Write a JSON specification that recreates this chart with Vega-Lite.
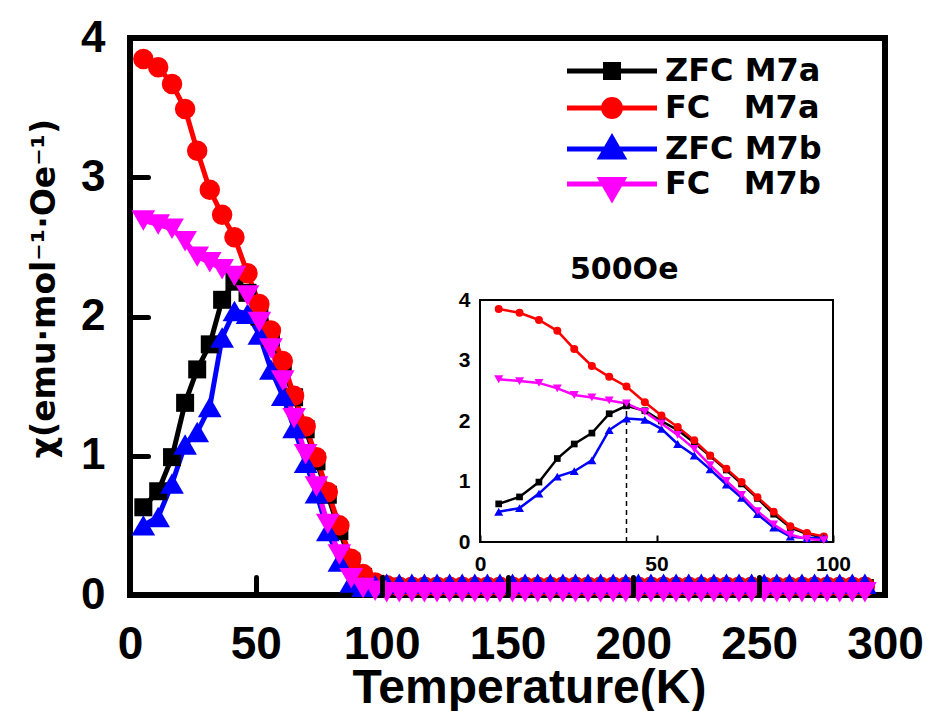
{
  "$schema": "https://vega.github.io/schema/vega-lite/v6.json",
  "width": 755,
  "height": 557,
  "autosize": {"type": "none"},
  "padding": {"left": 130, "top": 38, "right": 43, "bottom": 116},
  "background": "white",
  "config": {
    "view": {"stroke": "black", "strokeWidth": 6},
    "font": "Liberation Sans",
    "axis": {"grid": false, "labelFont": "Liberation Sans", "titleFont": "Liberation Sans", "labelColor": "black", "titleColor": "black", "tickColor": "black", "labelOverlap": false}
  },
  "datasets": {
    "chi": [
      {"T": 5.3, "chi": 0.63, "series": "ZFC M7a"}, {"T": 11.2, "chi": 0.745, "series": "ZFC M7a"}, {"T": 16.7, "chi": 0.99, "series": "ZFC M7a"}, {"T": 21.9, "chi": 1.38, "series": "ZFC M7a"}, {"T": 26.7, "chi": 1.62, "series": "ZFC M7a"}, {"T": 31.7, "chi": 1.8, "series": "ZFC M7a"}, {"T": 36.6, "chi": 2.12, "series": "ZFC M7a"}, {"T": 41.5, "chi": 2.25, "series": "ZFC M7a"}, {"T": 46.7, "chi": 2.17, "series": "ZFC M7a"}, {"T": 51.4, "chi": 2.0, "series": "ZFC M7a"}, {"T": 56.0, "chi": 1.85, "series": "ZFC M7a"}, {"T": 60.7, "chi": 1.64, "series": "ZFC M7a"}, {"T": 65.2, "chi": 1.42, "series": "ZFC M7a"}, {"T": 69.8, "chi": 1.19, "series": "ZFC M7a"}, {"T": 74.1, "chi": 0.96, "series": "ZFC M7a"}, {"T": 78.6, "chi": 0.72, "series": "ZFC M7a"}, {"T": 83.2, "chi": 0.46, "series": "ZFC M7a"}, {"T": 87.9, "chi": 0.24, "series": "ZFC M7a"}, {"T": 92.6, "chi": 0.13, "series": "ZFC M7a"}, {"T": 97.4, "chi": 0.08, "series": "ZFC M7a"},
      {"T": 102, "chi": 0.06, "series": "ZFC M7a"}, {"T": 107, "chi": 0.05, "series": "ZFC M7a"}, {"T": 112, "chi": 0.05, "series": "ZFC M7a"}, {"T": 117, "chi": 0.05, "series": "ZFC M7a"}, {"T": 122, "chi": 0.05, "series": "ZFC M7a"}, {"T": 127, "chi": 0.05, "series": "ZFC M7a"}, {"T": 132, "chi": 0.05, "series": "ZFC M7a"}, {"T": 137, "chi": 0.05, "series": "ZFC M7a"}, {"T": 142, "chi": 0.05, "series": "ZFC M7a"}, {"T": 147, "chi": 0.05, "series": "ZFC M7a"}, {"T": 152, "chi": 0.05, "series": "ZFC M7a"}, {"T": 157, "chi": 0.05, "series": "ZFC M7a"}, {"T": 162, "chi": 0.05, "series": "ZFC M7a"}, {"T": 167, "chi": 0.05, "series": "ZFC M7a"}, {"T": 172, "chi": 0.05, "series": "ZFC M7a"}, {"T": 177, "chi": 0.05, "series": "ZFC M7a"}, {"T": 182, "chi": 0.05, "series": "ZFC M7a"}, {"T": 187, "chi": 0.05, "series": "ZFC M7a"}, {"T": 192, "chi": 0.05, "series": "ZFC M7a"}, {"T": 197, "chi": 0.05, "series": "ZFC M7a"}, {"T": 202, "chi": 0.05, "series": "ZFC M7a"}, {"T": 207, "chi": 0.05, "series": "ZFC M7a"}, {"T": 212, "chi": 0.05, "series": "ZFC M7a"}, {"T": 217, "chi": 0.05, "series": "ZFC M7a"}, {"T": 222, "chi": 0.05, "series": "ZFC M7a"}, {"T": 227, "chi": 0.05, "series": "ZFC M7a"}, {"T": 232, "chi": 0.05, "series": "ZFC M7a"}, {"T": 237, "chi": 0.05, "series": "ZFC M7a"}, {"T": 242, "chi": 0.05, "series": "ZFC M7a"}, {"T": 247, "chi": 0.05, "series": "ZFC M7a"}, {"T": 252, "chi": 0.05, "series": "ZFC M7a"}, {"T": 257, "chi": 0.05, "series": "ZFC M7a"}, {"T": 262, "chi": 0.05, "series": "ZFC M7a"}, {"T": 267, "chi": 0.05, "series": "ZFC M7a"}, {"T": 272, "chi": 0.05, "series": "ZFC M7a"}, {"T": 277, "chi": 0.05, "series": "ZFC M7a"}, {"T": 282, "chi": 0.05, "series": "ZFC M7a"}, {"T": 287, "chi": 0.05, "series": "ZFC M7a"}, {"T": 292, "chi": 0.05, "series": "ZFC M7a"},

      {"T": 5.3, "chi": 3.85, "series": "FC M7a"}, {"T": 11.2, "chi": 3.79, "series": "FC M7a"}, {"T": 16.7, "chi": 3.67, "series": "FC M7a"}, {"T": 21.9, "chi": 3.49, "series": "FC M7a"}, {"T": 26.7, "chi": 3.19, "series": "FC M7a"}, {"T": 31.7, "chi": 2.91, "series": "FC M7a"}, {"T": 36.6, "chi": 2.73, "series": "FC M7a"}, {"T": 41.5, "chi": 2.57, "series": "FC M7a"}, {"T": 46.7, "chi": 2.31, "series": "FC M7a"}, {"T": 51.4, "chi": 2.09, "series": "FC M7a"}, {"T": 56.0, "chi": 1.9, "series": "FC M7a"}, {"T": 60.7, "chi": 1.68, "series": "FC M7a"}, {"T": 65.2, "chi": 1.43, "series": "FC M7a"}, {"T": 69.8, "chi": 1.21, "series": "FC M7a"}, {"T": 74.1, "chi": 0.99, "series": "FC M7a"}, {"T": 78.6, "chi": 0.74, "series": "FC M7a"}, {"T": 83.2, "chi": 0.5, "series": "FC M7a"}, {"T": 87.9, "chi": 0.26, "series": "FC M7a"}, {"T": 92.6, "chi": 0.15, "series": "FC M7a"}, {"T": 97.4, "chi": 0.09, "series": "FC M7a"},
      {"T": 102, "chi": 0.07, "series": "FC M7a"}, {"T": 107, "chi": 0.06, "series": "FC M7a"}, {"T": 112, "chi": 0.06, "series": "FC M7a"}, {"T": 117, "chi": 0.06, "series": "FC M7a"}, {"T": 122, "chi": 0.06, "series": "FC M7a"}, {"T": 127, "chi": 0.06, "series": "FC M7a"}, {"T": 132, "chi": 0.06, "series": "FC M7a"}, {"T": 137, "chi": 0.06, "series": "FC M7a"}, {"T": 142, "chi": 0.06, "series": "FC M7a"}, {"T": 147, "chi": 0.06, "series": "FC M7a"}, {"T": 152, "chi": 0.06, "series": "FC M7a"}, {"T": 157, "chi": 0.06, "series": "FC M7a"}, {"T": 162, "chi": 0.06, "series": "FC M7a"}, {"T": 167, "chi": 0.06, "series": "FC M7a"}, {"T": 172, "chi": 0.06, "series": "FC M7a"}, {"T": 177, "chi": 0.06, "series": "FC M7a"}, {"T": 182, "chi": 0.06, "series": "FC M7a"}, {"T": 187, "chi": 0.06, "series": "FC M7a"}, {"T": 192, "chi": 0.06, "series": "FC M7a"}, {"T": 197, "chi": 0.06, "series": "FC M7a"}, {"T": 202, "chi": 0.06, "series": "FC M7a"}, {"T": 207, "chi": 0.06, "series": "FC M7a"}, {"T": 212, "chi": 0.06, "series": "FC M7a"}, {"T": 217, "chi": 0.06, "series": "FC M7a"}, {"T": 222, "chi": 0.06, "series": "FC M7a"}, {"T": 227, "chi": 0.06, "series": "FC M7a"}, {"T": 232, "chi": 0.06, "series": "FC M7a"}, {"T": 237, "chi": 0.06, "series": "FC M7a"}, {"T": 242, "chi": 0.06, "series": "FC M7a"}, {"T": 247, "chi": 0.06, "series": "FC M7a"}, {"T": 252, "chi": 0.06, "series": "FC M7a"}, {"T": 257, "chi": 0.06, "series": "FC M7a"}, {"T": 262, "chi": 0.06, "series": "FC M7a"}, {"T": 267, "chi": 0.06, "series": "FC M7a"}, {"T": 272, "chi": 0.06, "series": "FC M7a"}, {"T": 277, "chi": 0.06, "series": "FC M7a"}, {"T": 282, "chi": 0.06, "series": "FC M7a"}, {"T": 287, "chi": 0.06, "series": "FC M7a"}, {"T": 292, "chi": 0.06, "series": "FC M7a"},

      {"T": 5.3, "chi": 0.5, "series": "ZFC M7b"}, {"T": 11.2, "chi": 0.56, "series": "ZFC M7b"}, {"T": 16.7, "chi": 0.8, "series": "ZFC M7b"}, {"T": 21.9, "chi": 1.08, "series": "ZFC M7b"}, {"T": 26.7, "chi": 1.17, "series": "ZFC M7b"}, {"T": 31.7, "chi": 1.35, "series": "ZFC M7b"}, {"T": 36.6, "chi": 1.85, "series": "ZFC M7b"}, {"T": 41.5, "chi": 2.04, "series": "ZFC M7b"}, {"T": 46.7, "chi": 2.02, "series": "ZFC M7b"}, {"T": 51.4, "chi": 1.87, "series": "ZFC M7b"}, {"T": 56.0, "chi": 1.62, "series": "ZFC M7b"}, {"T": 60.7, "chi": 1.43, "series": "ZFC M7b"}, {"T": 65.2, "chi": 1.2, "series": "ZFC M7b"}, {"T": 69.8, "chi": 0.95, "series": "ZFC M7b"}, {"T": 74.1, "chi": 0.73, "series": "ZFC M7b"}, {"T": 78.6, "chi": 0.46, "series": "ZFC M7b"}, {"T": 83.2, "chi": 0.24, "series": "ZFC M7b"}, {"T": 87.9, "chi": 0.09, "series": "ZFC M7b"}, {"T": 92.6, "chi": 0.06, "series": "ZFC M7b"}, {"T": 97.4, "chi": 0.07, "series": "ZFC M7b"},
      {"T": 102, "chi": 0.08, "series": "ZFC M7b"}, {"T": 107, "chi": 0.08, "series": "ZFC M7b"}, {"T": 112, "chi": 0.08, "series": "ZFC M7b"}, {"T": 117, "chi": 0.08, "series": "ZFC M7b"}, {"T": 122, "chi": 0.08, "series": "ZFC M7b"}, {"T": 127, "chi": 0.08, "series": "ZFC M7b"}, {"T": 132, "chi": 0.08, "series": "ZFC M7b"}, {"T": 137, "chi": 0.08, "series": "ZFC M7b"}, {"T": 142, "chi": 0.08, "series": "ZFC M7b"}, {"T": 147, "chi": 0.08, "series": "ZFC M7b"}, {"T": 152, "chi": 0.08, "series": "ZFC M7b"}, {"T": 157, "chi": 0.08, "series": "ZFC M7b"}, {"T": 162, "chi": 0.08, "series": "ZFC M7b"}, {"T": 167, "chi": 0.08, "series": "ZFC M7b"}, {"T": 172, "chi": 0.08, "series": "ZFC M7b"}, {"T": 177, "chi": 0.08, "series": "ZFC M7b"}, {"T": 182, "chi": 0.08, "series": "ZFC M7b"}, {"T": 187, "chi": 0.08, "series": "ZFC M7b"}, {"T": 192, "chi": 0.08, "series": "ZFC M7b"}, {"T": 197, "chi": 0.08, "series": "ZFC M7b"}, {"T": 202, "chi": 0.08, "series": "ZFC M7b"}, {"T": 207, "chi": 0.08, "series": "ZFC M7b"}, {"T": 212, "chi": 0.08, "series": "ZFC M7b"}, {"T": 217, "chi": 0.08, "series": "ZFC M7b"}, {"T": 222, "chi": 0.08, "series": "ZFC M7b"}, {"T": 227, "chi": 0.08, "series": "ZFC M7b"}, {"T": 232, "chi": 0.08, "series": "ZFC M7b"}, {"T": 237, "chi": 0.08, "series": "ZFC M7b"}, {"T": 242, "chi": 0.08, "series": "ZFC M7b"}, {"T": 247, "chi": 0.08, "series": "ZFC M7b"}, {"T": 252, "chi": 0.08, "series": "ZFC M7b"}, {"T": 257, "chi": 0.08, "series": "ZFC M7b"}, {"T": 262, "chi": 0.08, "series": "ZFC M7b"}, {"T": 267, "chi": 0.08, "series": "ZFC M7b"}, {"T": 272, "chi": 0.08, "series": "ZFC M7b"}, {"T": 277, "chi": 0.08, "series": "ZFC M7b"}, {"T": 282, "chi": 0.08, "series": "ZFC M7b"}, {"T": 287, "chi": 0.08, "series": "ZFC M7b"}, {"T": 292, "chi": 0.08, "series": "ZFC M7b"},

      {"T": 5.3, "chi": 2.69, "series": "FC M7b"}, {"T": 11.2, "chi": 2.66, "series": "FC M7b"}, {"T": 16.7, "chi": 2.63, "series": "FC M7b"}, {"T": 21.9, "chi": 2.54, "series": "FC M7b"}, {"T": 26.7, "chi": 2.43, "series": "FC M7b"}, {"T": 31.7, "chi": 2.39, "series": "FC M7b"}, {"T": 36.6, "chi": 2.34, "series": "FC M7b"}, {"T": 41.5, "chi": 2.29, "series": "FC M7b"}, {"T": 46.7, "chi": 2.15, "series": "FC M7b"}, {"T": 51.4, "chi": 1.96, "series": "FC M7b"}, {"T": 56.0, "chi": 1.77, "series": "FC M7b"}, {"T": 60.7, "chi": 1.54, "series": "FC M7b"}, {"T": 65.2, "chi": 1.27, "series": "FC M7b"}, {"T": 69.8, "chi": 1.01, "series": "FC M7b"}, {"T": 74.1, "chi": 0.78, "series": "FC M7b"}, {"T": 78.6, "chi": 0.51, "series": "FC M7b"}, {"T": 83.2, "chi": 0.29, "series": "FC M7b"}, {"T": 87.9, "chi": 0.12, "series": "FC M7b"}, {"T": 92.6, "chi": 0.05, "series": "FC M7b"}, {"T": 97.4, "chi": 0.03, "series": "FC M7b"},
      {"T": 102, "chi": 0.02, "series": "FC M7b"}, {"T": 107, "chi": 0.02, "series": "FC M7b"}, {"T": 112, "chi": 0.02, "series": "FC M7b"}, {"T": 117, "chi": 0.02, "series": "FC M7b"}, {"T": 122, "chi": 0.02, "series": "FC M7b"}, {"T": 127, "chi": 0.02, "series": "FC M7b"}, {"T": 132, "chi": 0.02, "series": "FC M7b"}, {"T": 137, "chi": 0.02, "series": "FC M7b"}, {"T": 142, "chi": 0.02, "series": "FC M7b"}, {"T": 147, "chi": 0.02, "series": "FC M7b"}, {"T": 152, "chi": 0.02, "series": "FC M7b"}, {"T": 157, "chi": 0.02, "series": "FC M7b"}, {"T": 162, "chi": 0.02, "series": "FC M7b"}, {"T": 167, "chi": 0.02, "series": "FC M7b"}, {"T": 172, "chi": 0.02, "series": "FC M7b"}, {"T": 177, "chi": 0.02, "series": "FC M7b"}, {"T": 182, "chi": 0.02, "series": "FC M7b"}, {"T": 187, "chi": 0.02, "series": "FC M7b"}, {"T": 192, "chi": 0.02, "series": "FC M7b"}, {"T": 197, "chi": 0.02, "series": "FC M7b"}, {"T": 202, "chi": 0.02, "series": "FC M7b"}, {"T": 207, "chi": 0.02, "series": "FC M7b"}, {"T": 212, "chi": 0.02, "series": "FC M7b"}, {"T": 217, "chi": 0.02, "series": "FC M7b"}, {"T": 222, "chi": 0.02, "series": "FC M7b"}, {"T": 227, "chi": 0.02, "series": "FC M7b"}, {"T": 232, "chi": 0.02, "series": "FC M7b"}, {"T": 237, "chi": 0.02, "series": "FC M7b"}, {"T": 242, "chi": 0.02, "series": "FC M7b"}, {"T": 247, "chi": 0.02, "series": "FC M7b"}, {"T": 252, "chi": 0.02, "series": "FC M7b"}, {"T": 257, "chi": 0.02, "series": "FC M7b"}, {"T": 262, "chi": 0.02, "series": "FC M7b"}, {"T": 267, "chi": 0.02, "series": "FC M7b"}, {"T": 272, "chi": 0.02, "series": "FC M7b"}, {"T": 277, "chi": 0.02, "series": "FC M7b"}, {"T": 282, "chi": 0.02, "series": "FC M7b"}, {"T": 287, "chi": 0.02, "series": "FC M7b"}, {"T": 292, "chi": 0.02, "series": "FC M7b"}
    ],
    "frame": [{"t0": 0, "t1": 100, "c0": 0, "c1": 4}],
    "peak": [{"T": 41.5, "c0": 0, "c1": 2.25}]
  },
  "layer": [
    {
      "data": {"name": "chi"},
      "encoding": {
        "x": {"field": "T", "type": "quantitative",
          "scale": {"domain": [0, 300], "nice": false, "zero": false},
          "axis": {"values": [0, 50, 100, 150, 200, 250, 300], "domain": false, "tickSize": -18, "tickWidth": 5, "tickCap": "round", "zindex": 1,
            "labelFontSize": 46, "labelFontWeight": "bold", "labelPadding": 45, "labelFlush": false,
            "title": "Temperature(K)", "titleFontSize": 48, "titleFontWeight": "bold", "titleX": 399, "titleY": 107, "titleBaseline": "alphabetic", "titleAlign": "center"}},
        "y": {"field": "chi", "type": "quantitative",
          "scale": {"domain": [0, 4], "nice": false},
          "axis": {"values": [0, 1, 2, 3, 4], "domain": false, "tickSize": -18, "tickWidth": 5, "tickCap": "round", "zindex": 1,
            "labelFontSize": 44, "labelFontWeight": "bold", "labelPadding": 43, "labelFlush": false,
            "title": "χ(emu·mol⁻¹·Oe⁻¹)", "titleFont": "DejaVu Sans", "titleFontSize": 33, "titleFontWeight": "bold", "titleX": -86, "titleY": 250, "titleBaseline": "middle", "titleAlign": "center"}},
        "color": {"field": "series", "type": "nominal",
          "scale": {"domain": ["FC M7a", "FC M7b", "ZFC M7a", "ZFC M7b"], "range": ["#FF0000", "#FF00FF", "#000000", "#0000FF"]},
          "legend": null}
      },
      "layer": [
        {"mark": {"type": "line", "strokeWidth": 5}},
        {"mark": {"type": "point", "filled": true, "opacity": 1},
          "encoding": {
            "shape": {"condition": [{"test": "datum.series === 'FC M7a'", "value": "circle"}, {"test": "datum.series === 'ZFC M7b'", "value": "triangle-up"}, {"test": "datum.series === 'FC M7b'", "value": "triangle-down"}], "value": "square"},
            "size": {"condition": [{"test": "datum.series === 'FC M7a'", "value": 420}, {"test": "datum.series === 'ZFC M7b' || datum.series === 'FC M7b'", "value": 560}], "value": 324}}}
      ]
    },
    {
      "layer": [
        {
          "data": {"name": "frame"},
          "mark": {"type": "rect", "fill": "white", "stroke": "black", "strokeWidth": 2},
          "encoding": {
            "x": {"field": "t0", "type": "quantitative",
              "scale": {"domain": [0, 100], "range": [350, 703], "nice": false, "zero": false},
              "axis": {"orient": "bottom", "offset": -53, "values": [0, 50, 100], "domain": false, "tickSize": -7, "tickWidth": 2, "zindex": 1,
                "labelFontSize": 21, "labelFontWeight": "bold", "labelPadding": 18, "labelFlush": false, "title": null}},
            "x2": {"field": "t1"},
            "y": {"field": "c0", "type": "quantitative",
              "scale": {"domain": [0, 4], "range": [504, 262], "nice": false, "zero": false},
              "axis": {"orient": "left", "offset": -350, "values": [0, 1, 2, 3, 4], "domain": false, "ticks": false, "zindex": 1,
                "labelFontSize": 21, "labelFontWeight": "bold", "labelPadding": 10, "labelFlush": false, "title": null}},
            "y2": {"field": "c1"}
          }
        },
        {
          "data": {"name": "peak"},
          "mark": {"type": "rule", "strokeDash": [5, 4], "strokeWidth": 1.5, "color": "black"},
          "encoding": {
            "x": {"field": "T", "type": "quantitative",
              "scale": {"domain": [0, 100], "range": [350, 703], "nice": false, "zero": false},
              "axis": {"orient": "bottom", "offset": -53, "values": [0, 50, 100], "domain": false, "tickSize": -7, "tickWidth": 2, "zindex": 1,
                "labelFontSize": 21, "labelFontWeight": "bold", "labelPadding": 18, "labelFlush": false, "title": null}},
            "y": {"field": "c0", "type": "quantitative",
              "scale": {"domain": [0, 4], "range": [504, 262], "nice": false, "zero": false},
              "axis": {"orient": "left", "offset": -350, "values": [0, 1, 2, 3, 4], "domain": false, "ticks": false, "zindex": 1,
                "labelFontSize": 21, "labelFontWeight": "bold", "labelPadding": 10, "labelFlush": false, "title": null}},
            "y2": {"field": "c1"}
          }
        },
        {
          "data": {"name": "chi"},
          "transform": [{"filter": "datum.T <= 100"}],
          "encoding": {
            "x": {"field": "T", "type": "quantitative",
              "scale": {"domain": [0, 100], "range": [350, 703], "nice": false, "zero": false},
              "axis": {"orient": "bottom", "offset": -53, "values": [0, 50, 100], "domain": false, "tickSize": -7, "tickWidth": 2, "zindex": 1,
                "labelFontSize": 21, "labelFontWeight": "bold", "labelPadding": 18, "labelFlush": false, "title": null}},
            "y": {"field": "chi", "type": "quantitative",
              "scale": {"domain": [0, 4], "range": [504, 262], "nice": false, "zero": false},
              "axis": {"orient": "left", "offset": -350, "values": [0, 1, 2, 3, 4], "domain": false, "ticks": false, "zindex": 1,
                "labelFontSize": 21, "labelFontWeight": "bold", "labelPadding": 10, "labelFlush": false, "title": null}},
            "color": {"field": "series", "type": "nominal",
              "scale": {"domain": ["FC M7a", "FC M7b", "ZFC M7a", "ZFC M7b"], "range": ["#FF0000", "#FF00FF", "#000000", "#0000FF"]},
              "legend": null}
          },
          "layer": [
            {"mark": {"type": "line", "strokeWidth": 2.5}},
            {"mark": {"type": "point", "filled": true, "opacity": 1},
              "encoding": {
                "shape": {"condition": [{"test": "datum.series === 'FC M7a'", "value": "circle"}, {"test": "datum.series === 'ZFC M7b'", "value": "triangle-up"}, {"test": "datum.series === 'FC M7b'", "value": "triangle-down"}], "value": "square"},
                "size": {"condition": [{"test": "datum.series === 'FC M7a'", "value": 64}, {"test": "datum.series === 'ZFC M7b' || datum.series === 'FC M7b'", "value": 81}], "value": 45}}}
          ]
        }
      ]
    },
    {
      "data": {"name": "chi"},
      "transform": [{"filter": "false"}],
      "mark": {"type": "point", "filled": true, "opacity": 1, "strokeWidth": 5},
      "encoding": {
        "fill": {"field": "series", "type": "nominal",
          "scale": {"domain": ["ZFC M7a", "FC M7a", "ZFC M7b", "FC M7b"], "range": ["#000000", "#FF0000", "#0000FF", "#FF00FF"]},
          "legend": {"orient": "none", "legendX": 440, "legendY": 17, "padding": 0,
            "title": "500Oe", "titleOrient": "bottom", "titleAnchor": "start", "titlePadding": 46, "titleFontSize": 30, "titleFontWeight": "bold", "titleColor": "black", "titleFont": "DejaVu Sans",
            "labelFontSize": 32, "labelFontWeight": "bold", "labelColor": "black", "labelFont": "DejaVu Sans", "labelOffset": 37,
            "labelExpr": "indexof(datum.label, 'ZFC') == 0 ? datum.label : replace(datum.label, ' ', '\u00a0\u00a0\u00a0')",
            "symbolSize": 400, "symbolOffset": 26, "symbolStrokeWidth": 5, "symbolOpacity": 1, "rowPadding": 1}},
        "stroke": {"field": "series", "type": "nominal",
          "scale": {"domain": ["ZFC M7a", "FC M7a", "ZFC M7b", "FC M7b"], "range": ["#000000", "#FF0000", "#0000FF", "#FF00FF"]},
          "legend": {"orient": "none", "legendX": 440, "legendY": 17, "padding": 0,
            "title": "500Oe", "titleOrient": "bottom", "titleAnchor": "start", "titlePadding": 46, "titleFontSize": 30, "titleFontWeight": "bold", "titleColor": "black", "titleFont": "DejaVu Sans",
            "labelFontSize": 32, "labelFontWeight": "bold", "labelColor": "black", "labelFont": "DejaVu Sans", "labelOffset": 37,
            "labelExpr": "indexof(datum.label, 'ZFC') == 0 ? datum.label : replace(datum.label, ' ', '\u00a0\u00a0\u00a0')",
            "symbolSize": 400, "symbolOffset": 26, "symbolStrokeWidth": 5, "symbolOpacity": 1, "rowPadding": 1}},
        "shape": {"field": "series", "type": "nominal",
          "scale": {"domain": ["ZFC M7a", "FC M7a", "ZFC M7b", "FC M7b"],
            "range": ["M-4.5,0H4.5M-0.65,-0.65H0.65V0.65H-0.65Z", "M-4.5,0H4.5M-0.85,0A0.85,0.85,0,1,0,0.85,0A0.85,0.85,0,1,0,-0.85,0Z", "M-4.5,0H4.5M0,-1.1L1.1,0.8L-1.1,0.8Z", "M-4.5,0H4.5M-1.1,-0.45L1.1,-0.45L0,1.45Z"]},
          "legend": {"orient": "none", "legendX": 440, "legendY": 17, "padding": 0,
            "title": "500Oe", "titleOrient": "bottom", "titleAnchor": "start", "titlePadding": 46, "titleFontSize": 30, "titleFontWeight": "bold", "titleColor": "black", "titleFont": "DejaVu Sans",
            "labelFontSize": 32, "labelFontWeight": "bold", "labelColor": "black", "labelFont": "DejaVu Sans", "labelOffset": 37,
            "labelExpr": "indexof(datum.label, 'ZFC') == 0 ? datum.label : replace(datum.label, ' ', '\u00a0\u00a0\u00a0')",
            "symbolSize": 400, "symbolOffset": 26, "symbolStrokeWidth": 5, "symbolOpacity": 1, "rowPadding": 1}}
      }
    }
  ],
  "resolve": {"scale": {"x": "independent", "y": "independent"}}
}
